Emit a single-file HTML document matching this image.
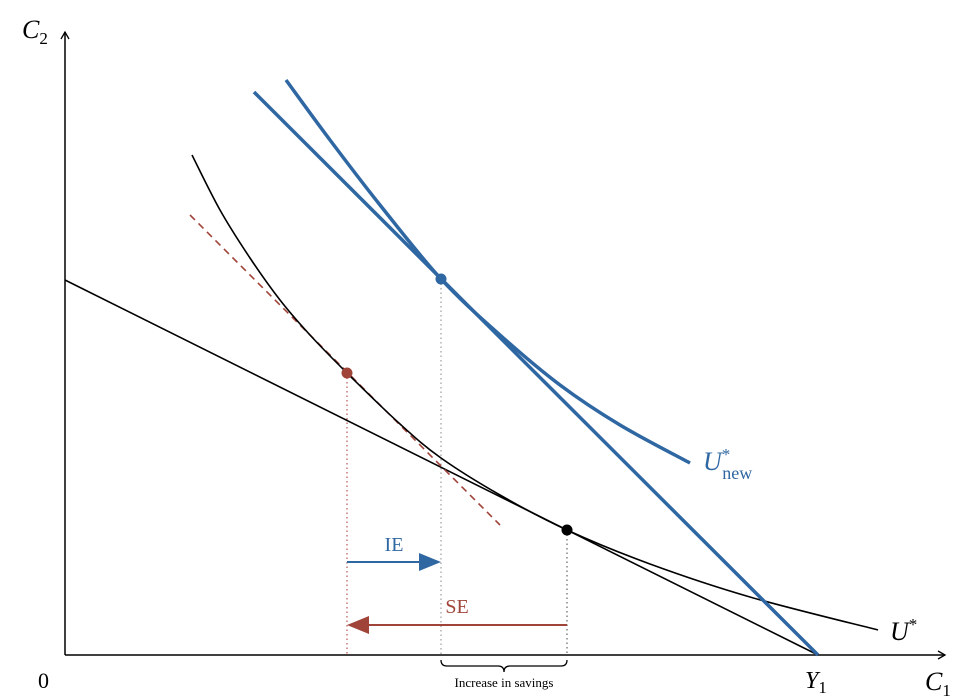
<!DOCTYPE html>
<html><head><meta charset="utf-8">
<style>
html,body{margin:0;padding:0;background:#fff;}
svg{display:block;font-family:"Liberation Serif",serif;}
</style></head>
<body>
<svg id="chart" width="960" height="700" viewBox="0 0 960 700">
<defs>
<marker id="axArrow" markerWidth="10" markerHeight="10" refX="8" refY="5" orient="auto" markerUnits="userSpaceOnUse">
<path d="M1,1 L8,5 L1,9" fill="none" stroke="#000" stroke-width="1.3"/></marker>
</defs>
<g id="axes"></g>
<g id="marks"></g>
</svg>
<script>
// data in chart units: x = C1, y = C2 (origin bottom-left)
const budgetLine = [[0,375],[753,0]];
const uStar = [[127,500],[155,445],[185,397],[215,355],[245,320],[282,282],[335,231],[376,197],[435,160],[502,125],[585,91],[685,58],[813,25]];
const uNew = [[221,575],[265,515],[315,450],[376,376],[435,320],[495,270],[555,230],[625,192]];
const newBudget = [[189,563],[753,0]];
const seTangent = [[125,440],[435,130]];
const pointOld = [502,125];
const pointSE = [282,282];
const pointNew = [376,376];
const arrowIEy = 93, arrowSEy = 30;

const X0 = 65, Y0 = 655;
const sx = v => X0 + v, sy = v => Y0 - v;
const NS = "http://www.w3.org/2000/svg";
const axes = document.getElementById('axes'), marks = document.getElementById('marks');
function mk(tag, attrs, parent, text){
  const e = document.createElementNS(NS, tag);
  for (const k in attrs) e.setAttribute(k, attrs[k]);
  if (text !== undefined) e.textContent = text;
  parent.appendChild(e); return e;
}
function smooth(pts){
  const p = pts.map(q=>[sx(q[0]),sy(q[1])]);
  let d = `M${p[0][0]},${p[0][1]}`;
  for (let i=0;i<p.length-1;i++){
    const a=p[i-1]||p[i], b=p[i], c=p[i+1], e=p[i+2]||c;
    d += ` C${b[0]+(c[0]-a[0])/6},${b[1]+(c[1]-a[1])/6} ${c[0]-(e[0]-b[0])/6},${c[1]-(e[1]-b[1])/6} ${c[0]},${c[1]}`;
  }
  return d;
}
let el;
el = mk('line',{x1:X0,y1:Y0,x2:X0,y2:32,stroke:'#000','stroke-width':1.5,'marker-end':'url(#axArrow)'},axes);
 
el = mk('line',{x1:X0,y1:Y0,x2:945,y2:Y0,stroke:'#000','stroke-width':1.5,'marker-end':'url(#axArrow)'},axes);
 
el = mk('text',{x:22,y:38,'font-size':26,'font-style':'italic'},axes,'C');
 
mk('tspan',{'font-size':17,'font-style':'normal',dy:6},el,'2');
el = mk('text',{x:925,y:690,'font-size':26,'font-style':'italic'},axes,'C');
 
mk('tspan',{'font-size':17,'font-style':'normal',dy:6},el,'1');
el = mk('text',{x:38,y:688,'font-size':22},axes,'0');
 
el = mk('text',{x:805,y:688,'font-size':24,'font-style':'italic'},axes,'Y');
 
mk('tspan',{'font-size':17,'font-style':'normal',dy:5},el,'1');

[[pointSE,'#a33','se-dropline'],[pointNew,'#888','new-dropline'],[pointOld,'#444','old-dropline']].forEach(([p,c,n])=>{
  el = mk('line',{x1:sx(p[0]),y1:sy(p[1]),x2:sx(p[0]),y2:Y0,stroke:c,'stroke-width':1,'stroke-dasharray':'1.5,3'},marks);
   
});
el = mk('line',{x1:sx(budgetLine[0][0]),y1:sy(budgetLine[0][1]),x2:sx(budgetLine[1][0]),y2:sy(budgetLine[1][1]),stroke:'#000','stroke-width':1.6},marks);
 
el = mk('line',{x1:sx(seTangent[0][0]),y1:sy(seTangent[0][1]),x2:sx(seTangent[1][0]),y2:sy(seTangent[1][1]),stroke:'#a0443a','stroke-width':1.6,'stroke-dasharray':'7,5'},marks);
 
el = mk('path',{d:smooth(uStar),fill:'none',stroke:'#000','stroke-width':1.6},marks);
 
el = mk('line',{x1:sx(newBudget[0][0]),y1:sy(newBudget[0][1]),x2:sx(newBudget[1][0]),y2:sy(newBudget[1][1]),stroke:'#2f67a3','stroke-width':3.5},marks);
 
el = mk('path',{d:smooth(uNew),fill:'none',stroke:'#2f67a3','stroke-width':3.5},marks);
 
[[pointOld,'#000','old-optimum'],[pointSE,'#a0443a','se-point'],[pointNew,'#2f67a3','new-optimum']].forEach(([p,c,n])=>{
  el = mk('circle',{cx:sx(p[0]),cy:sy(p[1]),r:5.5,fill:c},marks);
   
});
el = mk('line',{x1:sx(pointSE[0]),y1:sy(arrowIEy),x2:sx(pointNew[0])-20,y2:sy(arrowIEy),stroke:'#2f67a3','stroke-width':2},marks);
 
el = mk('polygon',{points:`${sx(pointNew[0])},${sy(arrowIEy)} ${sx(pointNew[0])-22},${sy(arrowIEy)-9} ${sx(pointNew[0])-22},${sy(arrowIEy)+9}`,fill:'#2f67a3'},marks);
 
el = mk('text',{x:(sx(pointSE[0])+sx(pointNew[0]))/2,y:sy(arrowIEy)-11,'font-size':20,fill:'#2f67a3','text-anchor':'middle'},marks,'IE');
 
el = mk('line',{x1:sx(pointOld[0]),y1:sy(arrowSEy),x2:sx(pointSE[0])+20,y2:sy(arrowSEy),stroke:'#a0443a','stroke-width':2},marks);
 
el = mk('polygon',{points:`${sx(pointSE[0])},${sy(arrowSEy)} ${sx(pointSE[0])+22},${sy(arrowSEy)-9} ${sx(pointSE[0])+22},${sy(arrowSEy)+9}`,fill:'#a0443a'},marks);
 
el = mk('text',{x:(sx(pointSE[0])+sx(pointOld[0]))/2,y:sy(arrowSEy)-12,'font-size':20,fill:'#a0443a','text-anchor':'middle'},marks,'SE');
 
const bx1 = sx(pointNew[0]), bx2 = sx(pointOld[0]), bm = (bx1+bx2)/2;
el = mk('path',{d:`M${bx1},660 Q${bx1},666 ${bx1+6},666 L${bm-6},666 Q${bm},666 ${bm},672 Q${bm},666 ${bm+6},666 L${bx2-6},666 Q${bx2},666 ${bx2},660`,fill:'none',stroke:'#000','stroke-width':1.3},marks);
 
el = mk('text',{x:bm,y:687,'font-size':13,'text-anchor':'middle'},marks,'Increase in savings');
 
el = mk('text',{x:703,y:470,'font-size':26,'font-style':'italic',fill:'#2f67a3'},marks,'U');
 
mk('tspan',{'font-size':17,'font-style':'normal',dy:-10},el,'*');
mk('tspan',{'font-size':18,'font-style':'normal',dx:-8,dy:19},el,'new');
el = mk('text',{x:890,y:640,'font-size':26,'font-style':'italic'},marks,'U');
 
mk('tspan',{'font-size':17,'font-style':'normal',dy:-10},el,'*');
</script>
</body></html>
